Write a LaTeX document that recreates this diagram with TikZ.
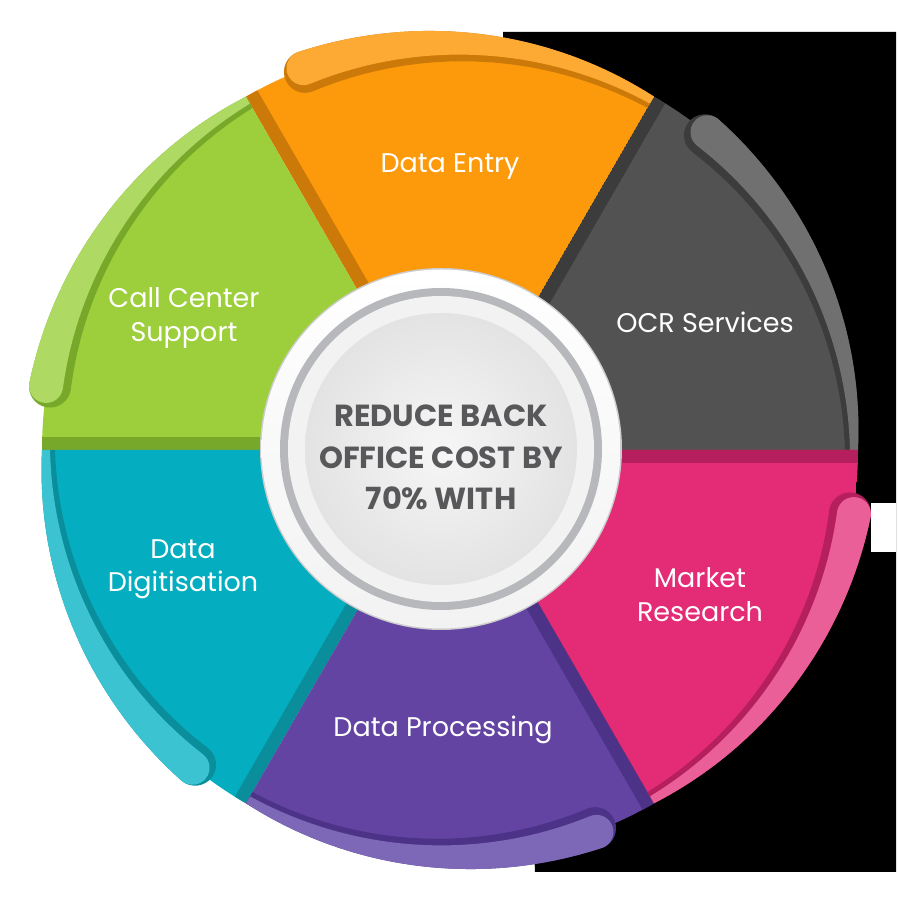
\documentclass[tikz,border=0pt]{standalone}
\usepackage{fontspec}
\setmainfont{Poppins}
\newfontfamily\ctrfont{Poppins}
\definecolor{grM}{HTML}{525252}\definecolor{grD}{HTML}{3C3C3C}\definecolor{grL}{HTML}{707070}
\definecolor{orM}{HTML}{FD9A0B}\definecolor{orD}{HTML}{CB7908}\definecolor{orL}{HTML}{FDAA35}
\definecolor{gnM}{HTML}{9CCF3B}\definecolor{gnD}{HTML}{78A82A}\definecolor{gnL}{HTML}{AEDA64}
\definecolor{tlM}{HTML}{04ADBF}\definecolor{tlD}{HTML}{0A8E9C}\definecolor{tlL}{HTML}{3BC3D1}
\definecolor{puM}{HTML}{6344A3}\definecolor{puD}{HTML}{4D3388}\definecolor{puL}{HTML}{7C68B6}
\definecolor{pkM}{HTML}{E32B76}\definecolor{pkD}{HTML}{B51F5D}\definecolor{pkL}{HTML}{EB5F98}
\definecolor{ctrtext}{HTML}{58585A}
\definecolor{ringgray}{HTML}{B7B8BB}
\newcommand\wheelpart[4]{%
  \begin{scope}
    \clip (0,0) -- (#1:408) arc[start angle=#1, end angle=#1+60, radius=408] -- cycle;
    \fill[#2] (0,0) -- (#1:408) arc[start angle=#1, end angle=#1+60, radius=408] -- cycle;
    \draw[#3, line width=26] (0,0) -- (#1+60:420);
  \end{scope}
  \fill[#3] plot[domain=0:1, samples=40, variable=\t] ({#1+51*\t}:{408+18*\t})
     arc[start angle=#1+51, end angle=#1+231, radius=21]
     -- plot[domain=1:0, samples=40, variable=\t] ({#1+51*\t}:{395-11*\t}) -- cycle;
  \fill[#4] plot[domain=0:1, samples=40, variable=\t] ({#1+51*\t}:{408+18*\t})
     arc[start angle=#1+51, end angle=#1+231, radius=17]
     -- plot[domain=1:0, samples=40, variable=\t] ({#1+51*\t}:{400-8*\t}) -- cycle;
}
\tikzset{
  lbl/.style={text=white, align=center, font=\fontsize{27}{33.5}\selectfont, inner sep=0pt},
  ctr/.style={text=ctrtext, align=center, font=\ctrfont\bfseries\fontsize{30.5}{41.5}\selectfont, inner sep=0pt}
}
\begin{document}
\begin{tikzpicture}[x=1pt,y=1pt]
\useasboundingbox (0,0) rectangle (900,900);
\fill[white] (0,0) rectangle (900,900);
% dark backdrop on the right
\fill[black] (503,868) -- (896,868) -- (896,28) -- (535,28) -- cycle;
\fill[white] (871,397) rectangle (896,348);
% wheel
\begin{scope}[shift={(450,450)}]
  \wheelpart{0}{grM}{grD}{grL}
  \wheelpart{60}{orM}{orD}{orL}
  \wheelpart{120}{gnM}{gnD}{gnL}
  \wheelpart{180}{tlM}{tlD}{tlL}
  \wheelpart{240}{puM}{puD}{puL}
  \wheelpart{300}{pkM}{pkD}{pkL}
\end{scope}
% centre disc
\coordinate (c) at (441,451);
\fill[gray!40] (c) circle (181);
\shade[top color=white, bottom color=gray!10] (c) circle (179.5);
\fill[ringgray] (c) circle (161);
\fill[gray!10] (c) circle (153);
\shade[inner color=gray!7, outer color=gray!22] (c) circle (136);
\node[ctr] (core) at (441,442.5) {REDUCE BACK\\OFFICE COST BY\\70\% WITH};
% labels
\node[lbl, anchor=base] (entry) at (450,727) {Data Entry};
\node[lbl, anchor=base] (ocr) at (705,567) {OCR Services};
\node[lbl] (call) at (184,582) {Call Center\\Support};
\node[lbl] (digit) at (183,331) {Data\\Digitisation};
\node[lbl, anchor=base] (proc) at (443,163) {Data Processing};
\node[lbl] (market) at (700,305.5) {Market\\Research};
\end{tikzpicture}
\end{document}
